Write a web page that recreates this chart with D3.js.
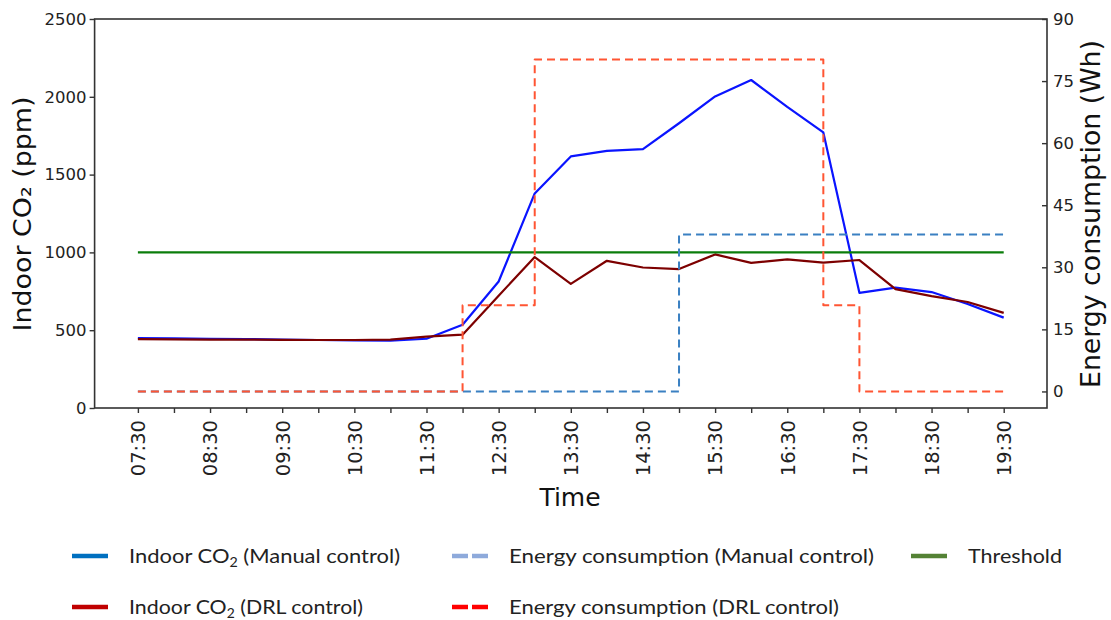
<!DOCTYPE html>
<html>
<head>
<meta charset="utf-8">
<script src="https://cdn.jsdelivr.net/npm/d3@7"></script>
<style>
    body { margin: 0; background: #fff; }
    svg { display: block; }
    .tick-label { font-family: "DejaVu Sans", sans-serif; fill: #222; }
    .axis-title { font-family: "DejaVu Sans", sans-serif; fill: #111; }
    .legend-text { font-family: Lato, "Open Sans", sans-serif; font-size: 20px; fill: #222; }
</style>
</head>
<body>
<div id="chart"></div>
<script>
// half-hour samples, 07:30 .. 19:30
var times = ["07:30", "08:00", "08:30", "09:00", "09:30", "10:00", "10:30", "11:00", "11:30",
    "12:00", "12:30", "13:00", "13:30", "14:00", "14:30", "15:00", "15:30", "16:00",
    "16:30", "17:00", "17:30", "18:00", "18:30", "19:00", "19:30"];
var timeLabels = ["07:30", "08:30", "09:30", "10:30", "11:30", "12:30", "13:30",
    "14:30", "15:30", "16:30", "17:30", "18:30", "19:30"];

// indoor CO2 (ppm)
var co2Manual = [450, 447, 445, 443, 440, 437, 435, 433, 445, 535, 813, 1379, 1617, 1653,
    1664, 1830, 2002, 2108, 1935, 1771, 740, 774, 745, 668, 581];
var co2Drl = [443, 441, 440, 440, 438, 437, 437, 440, 459, 471, 722, 970, 798, 946, 903,
    893, 987, 933, 955, 934, 951, 764, 719, 681, 611];
var threshold = 1000;

// energy consumption (Wh), value holds until the next sample
var energyManual = [0, 0, 0, 0, 0, 0, 0, 0, 0, 0, 0, 0, 0, 0, 0,
    37.9, 37.9, 37.9, 37.9, 37.9, 37.9, 37.9, 37.9, 37.9, 37.9];
var energyDrl = [0, 0, 0, 0, 0, 0, 0, 0, 0, 20.8, 20.8, 80.2, 80.2, 80.2, 80.2,
    80.2, 80.2, 80.2, 80.2, 20.8, 0, 0, 0, 0, 0];

var co2Ticks = [0, 500, 1000, 1500, 2000, 2500];
var energyTicks = [0, 15, 30, 45, 60, 75, 90];

var legendItems = [
    { name: "Indoor CO|2| (Manual control)", color: "#0070c0", dash: null, col: 0, row: 0, len: 271 },
    { name: "Energy consumption (Manual control)", color: "#8eaadb", dash: "16,4", col: 1, row: 0, len: 365 },
    { name: "Threshold", color: "#548235", dash: null, col: 2, row: 0, len: 94 },
    { name: "Indoor CO|2| (DRL control)", color: "#c00000", dash: null, col: 0, row: 1, len: 234 },
    { name: "Energy consumption (DRL control)", color: "#ff0000", dash: "16,4", col: 1, row: 1, len: 330 }
];

function toHours(t) {
    var p = t.split(":");
    return +p[0] + (+p[1]) / 60;
}

var width = 1111,
    height = 620,
    frame = { left: 94.6, right: 1047, top: 19, bottom: 408 };

var svg = d3.select("#chart").append("svg")
    .attr("width", width)
    .attr("height", height);

var x = d3.scaleLinear()
    .domain([6.9, 20.1])
    .range([frame.left, frame.right]);

var yLeft = d3.scaleLinear()
    .domain([0, 2500])
    .range([frame.bottom, frame.top]);

var yRight = d3.scaleLinear()
    .domain([-4, 90])
    .range([frame.bottom, frame.top]);

var hours = times.map(toHours);

function drawLine(values, scale, color, widthPx, dash, curve) {
    var line = d3.line()
        .x(function (d, i) { return x(hours[i]); })
        .y(function (d) { return scale(d); })
        .curve(curve || d3.curveLinear);
    svg.append("path")
        .datum(values)
        .attr("fill", "none")
        .attr("stroke", color)
        .attr("stroke-width", widthPx)
        .attr("stroke-dasharray", dash)
        .attr("stroke-linejoin", "round")
        .attr("d", line);
}

// lines
drawLine(co2Manual, yLeft, "#0a14ff", 2.2);
drawLine(co2Drl, yLeft, "#7d0000", 2.2);
drawLine(times.map(function () { return threshold; }), yLeft, "#0a7d0a", 2.4);
drawLine(energyManual, yRight, "#3a80c2", 2, "8,5", d3.curveStepAfter);
drawLine(energyDrl, yRight, "#ff5533", 2, "8,5", d3.curveStepAfter);

// frame
svg.append("rect")
    .attr("x", frame.left)
    .attr("y", frame.top)
    .attr("width", frame.right - frame.left)
    .attr("height", frame.bottom - frame.top)
    .attr("fill", "none")
    .attr("stroke", "#333")
    .attr("stroke-width", 1.6);

// left axis
var leftAxis = svg.append("g")
    .attr("transform", "translate(" + frame.left + ",0)")
    .call(d3.axisLeft(yLeft).tickValues(co2Ticks).tickFormat(d3.format("d"))
        .tickSize(5).tickPadding(3));
leftAxis.select(".domain").remove();
leftAxis.selectAll("line").attr("stroke", "#333").attr("stroke-width", 1.4);
leftAxis.selectAll("text").attr("class", "tick-label").style("font-size", "16.5px").attr("fill", null);

// right axis, ticks point into the plot
var rightAxis = svg.append("g")
    .attr("transform", "translate(" + frame.right + ",0)")
    .call(d3.axisRight(yRight).tickValues(energyTicks).tickFormat(d3.format("d"))
        .tickSizeInner(-5).tickSizeOuter(0).tickPadding(6));
rightAxis.select(".domain").remove();
rightAxis.selectAll("line").attr("stroke", "#333").attr("stroke-width", 1.4);
rightAxis.selectAll("text").attr("class", "tick-label").style("font-size", "16.5px").attr("fill", null);

// bottom axis: a tick every half hour, a label every hour
var bottomAxis = svg.append("g")
    .attr("transform", "translate(0," + frame.bottom + ")")
    .call(d3.axisBottom(x).tickValues(hours).tickSize(5)
        .tickFormat(function (d, i) { return timeLabels.indexOf(times[i]) >= 0 ? times[i] : ""; }));
bottomAxis.select(".domain").remove();
bottomAxis.selectAll("line").attr("stroke", "#333").attr("stroke-width", 1.4);
bottomAxis.selectAll("text")
    .attr("class", "tick-label")
    .attr("fill", null)
    .style("font-size", "19.5px")
    .style("text-anchor", "end")
    .attr("dy", "0.35em")
    .attr("x", -12)
    .attr("y", 0)
    .attr("transform", "rotate(-90)");

// axis titles
svg.append("text")
    .attr("class", "axis-title")
    .attr("transform", "translate(31,214) rotate(-90)")
    .style("text-anchor", "middle")
    .style("font-size", "25px")
    .attr("textLength", 235)
    .attr("lengthAdjust", "spacingAndGlyphs")
    .text("Indoor CO\u2082 (ppm)");

svg.append("text")
    .attr("class", "axis-title")
    .attr("transform", "translate(1100,214) rotate(-90)")
    .style("text-anchor", "middle")
    .style("font-size", "26px")
    .attr("textLength", 348)
    .attr("lengthAdjust", "spacingAndGlyphs")
    .text("Energy consumption (Wh)");

svg.append("text")
    .attr("class", "axis-title")
    .attr("x", 570)
    .attr("y", 506)
    .style("text-anchor", "middle")
    .style("font-size", "25px")
    .text("Time");

// legend
var colX = [72, 452, 911],
    rowY = [556, 607];

var legend = svg.selectAll(".legend-item")
    .data(legendItems)
    .enter().append("g")
    .attr("class", "legend-item")
    .attr("transform", function (d) {
        return "translate(" + colX[d.col] + "," + rowY[d.row] + ")";
    });

legend.append("line")
    .attr("x1", 0)
    .attr("x2", 36)
    .attr("stroke", function (d) { return d.color; })
    .attr("stroke-width", 4.3)
    .attr("stroke-dasharray", function (d) { return d.dash; });

var label = legend.append("text")
    .attr("class", "legend-text")
    .attr("x", 57)
    .attr("y", 7)
    .attr("textLength", function (d) { return d.len; })
    .attr("lengthAdjust", "spacingAndGlyphs");

label.each(function (d) {
    var parts = d.name.split("|"),
        t = d3.select(this);
    parts.forEach(function (p, i) {
        var span = t.append("tspan").text(p);
        if (i === 1) {
            span.style("font-size", "13px").attr("dy", 4);
        } else if (i === 2) {
            span.attr("dy", -4);
        }
    });
});
</script>
</body>
</html>
